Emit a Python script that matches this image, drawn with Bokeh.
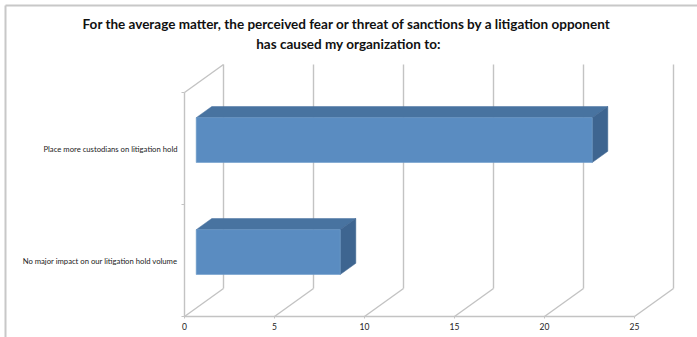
from bokeh.plotting import figure
from bokeh.models import Range1d, FixedTicker, LinearAxis
from bokeh.embed import file_html
from bokeh.resources import INLINE
from bokeh.core.properties import value

# ---- data ----
title_lines = [
    "For the average matter, the perceived fear or threat of sanctions by a  litigation opponent",
    "has caused my organization to:",
]
categories = [
    "Place more custodians on litigation hold",
    "No major impact on our litigation hold volume",
]
counts = [22, 8]
x_ticks = [0, 5, 10, 15, 20, 25]

# ---- geometry of the pseudo-3D box (pixels -> data units) ----
W, H = 697, 337
ORIGIN_PX = (184, 316)          # where value 0 / category floor sits on the canvas
PX_PER_VALUE = 18.0
PX_PER_SLOT = 112.0
DX = 39 / PX_PER_VALUE          # depth offset along x
DY = 28 / PX_PER_SLOT           # depth offset along y
BAR_FRONT, BAR_BACK = 0.3, 0.7  # bar position inside the depth
BAR_HALF = 0.2                  # half bar thickness in slot units
X_MAX = x_ticks[-1]
N = len(categories)


def px_x(px):
    return (px - ORIGIN_PX[0]) / PX_PER_VALUE


def px_y(py):
    return (ORIGIN_PX[1] - py) / PX_PER_SLOT


GRID = "#c3c3c3"
FRONT = "#5a8cc1"
TOP = "#4873a0"
SIDE = "#3e6590"

p = figure(width=W, height=H, output_backend="svg", toolbar_location=None,
           x_axis_type=None, y_axis_type=None, min_border=0,
           x_range=Range1d(px_x(0), px_x(W)), y_range=Range1d(px_y(H), px_y(0)))
p.outline_line_color = None
p.xgrid.visible = False
p.ygrid.visible = False
p.background_fill_color = "white"

# chart area border (top and left edges)
p.segment(x0=[px_x(5), px_x(5)], y0=[px_y(5), px_y(5)],
          x1=[px_x(W + 5), px_x(5)], y1=[px_y(5), px_y(H + 5)],
          line_color="#c8c8c8", line_width=2)

# back wall gridlines and floor diagonals
p.segment(x0=[t + DX for t in x_ticks], y0=[DY] * len(x_ticks),
          x1=[t + DX for t in x_ticks], y1=[N + DY] * len(x_ticks),
          line_color=GRID, line_width=1.4)
p.segment(x0=x_ticks, y0=[0] * len(x_ticks),
          x1=[t + DX for t in x_ticks], y1=[DY] * len(x_ticks),
          line_color=GRID, line_width=1.4)
# floor front edge, side wall front edge and top diagonal
p.segment(x0=[0, 0, 0], y0=[0, 0, N], x1=[X_MAX, 0, DX], y1=[0, N, N + DY],
          line_color=GRID, line_width=1.4)
# category boundary tick marks
p.segment(x0=[0] * (N + 1), y0=list(range(N + 1)),
          x1=[px_x(ORIGIN_PX[0] - 3)] * (N + 1), y1=list(range(N + 1)),
          line_color=GRID, line_width=1.2)

# bars
for i, v in enumerate(counts):
    c = N - 1 - i + 0.5
    fx0, fy = BAR_FRONT * DX, BAR_FRONT * DY
    bx0, by = BAR_BACK * DX, BAR_BACK * DY
    lo, hi = c - BAR_HALF, c + BAR_HALF
    p.patch(x=[fx0, bx0, v + bx0, v + fx0], y=[hi + fy, hi + by, hi + by, hi + fy],
            fill_color=TOP, line_color=TOP, line_width=0.5)
    p.patch(x=[v + fx0, v + bx0, v + bx0, v + fx0], y=[lo + fy, lo + by, hi + by, hi + fy],
            fill_color=SIDE, line_color=SIDE, line_width=0.5)
    p.quad(left=[fx0], right=[v + fx0], bottom=[lo + fy], top=[hi + fy],
           fill_color=FRONT, line_color="#6f9ccb", line_width=0.6)

# value axis along the front floor edge
xa = LinearAxis(fixed_location=0, ticker=FixedTicker(ticks=x_ticks))
xa.axis_line_color = None
xa.major_tick_line_color = GRID
xa.major_tick_out = 2
xa.major_tick_in = 0
xa.minor_tick_line_color = None
xa.major_label_standoff = 4
xa.major_label_text_font = "Lato"
xa.major_label_text_font_size = "8.5px"
xa.major_label_text_color = "#222222"
p.add_layout(xa, "below")

# category axis on the side wall
ya = LinearAxis(fixed_location=0, ticker=FixedTicker(ticks=[N - 1 - i + 0.5 for i in range(N)]))
ya.major_label_overrides = {N - 1 - i + 0.5: name for i, name in enumerate(categories)}
ya.axis_line_color = None
ya.major_tick_line_color = None
ya.major_tick_out = 0
ya.major_tick_in = 0
ya.minor_tick_line_color = None
ya.major_label_standoff = 7
ya.major_label_text_font = "Lato"
ya.major_label_text_font_size = "7.7px"
ya.major_label_text_color = "#222222"
p.add_layout(ya, "left")

# two-line bold title
p.text(x=[px_x(348)] * 2, y=[px_y(23), px_y(43)], text=title_lines,
       text_align="center", text_baseline="middle",
       text_font=value("Lato"), text_font_style="bold", text_font_size="13.5px",
       text_color="#111111")

open("out.html", "w").write(file_html(p, INLINE))
